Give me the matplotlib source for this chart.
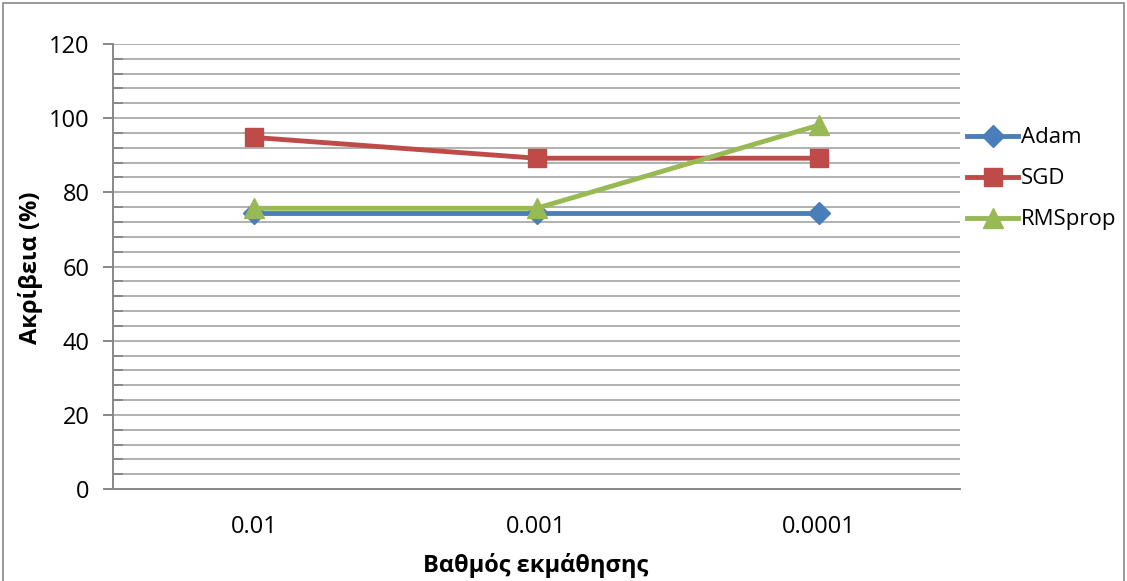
import matplotlib.pyplot as plt
from matplotlib.ticker import MultipleLocator
from matplotlib.patches import Rectangle

learning_rates = ["0.01", "0.001", "0.0001"]
adam = [74.4, 74.4, 74.4]
sgd = [94.8, 89.2, 89.2]
rmsprop = [75.7, 75.7, 98.1]

plt.rcParams['font.family'] = ['Open Sans', 'DejaVu Sans']

fig = plt.figure(figsize=(11.27, 5.81), dpi=100)
ax = fig.add_axes([0.1003, 0.1583, 0.7515, 0.766])

x = range(len(learning_rates))
ax.plot(x, adam, color='#4A7EBB', lw=3.5, marker='D', ms=11, label='Adam', zorder=3)
ax.plot(x, sgd, color='#BE4B48', lw=3.5, marker='s', ms=13, label='SGD', zorder=3)
ax.plot(x, rmsprop, color='#98B954', lw=3.5, marker='^', ms=14, label='RMSprop', zorder=4)

ax.set_xlim(-0.5, 2.5)
ax.set_ylim(0, 120)
ax.set_xticks(list(x))
ax.set_xticklabels(learning_rates)
ax.yaxis.set_major_locator(MultipleLocator(20))
ax.yaxis.set_minor_locator(MultipleLocator(4))
ax.grid(True, which='both', axis='y', color='#b0b0b0', lw=1.4, zorder=0)

for side in ('top', 'right'):
    ax.spines[side].set_visible(False)
for side in ('left', 'bottom'):
    ax.spines[side].set_color('#888888')
    ax.spines[side].set_linewidth(1.4)

ax.tick_params(axis='y', which='major', length=7, width=1.4, color='#888888',
               labelsize=17, pad=10)
ax.tick_params(axis='y', which='minor', length=7, width=1.4, color='#888888',
               direction='in')
ax.tick_params(axis='x', length=0, labelsize=17, pad=19)

# axis titles placed in figure pixels
fig.text(536 / 1127, 1 - 565 / 581, 'Βαθμός εκμάθησης', fontsize=17,
         fontweight='bold', ha='center', va='center')
fig.text(31 / 1127, 1 - 268 / 581, 'Ακρίβεια (%)', fontsize=17,
         fontweight='bold', ha='center', va='center', rotation=90)

ax.legend(loc='center left', bbox_to_anchor=(0.998, 0.697), frameon=False,
          fontsize=16, handlelength=2.3, handletextpad=0.1, labelspacing=0.9,
          borderaxespad=0)

# outer chart frame
fig.patches.append(Rectangle((0.003, -0.01), 0.994, 1.005, transform=fig.transFigure,
                             fill=False, edgecolor='#888888', lw=1.2))

fig.savefig('out.png', dpi=100)
